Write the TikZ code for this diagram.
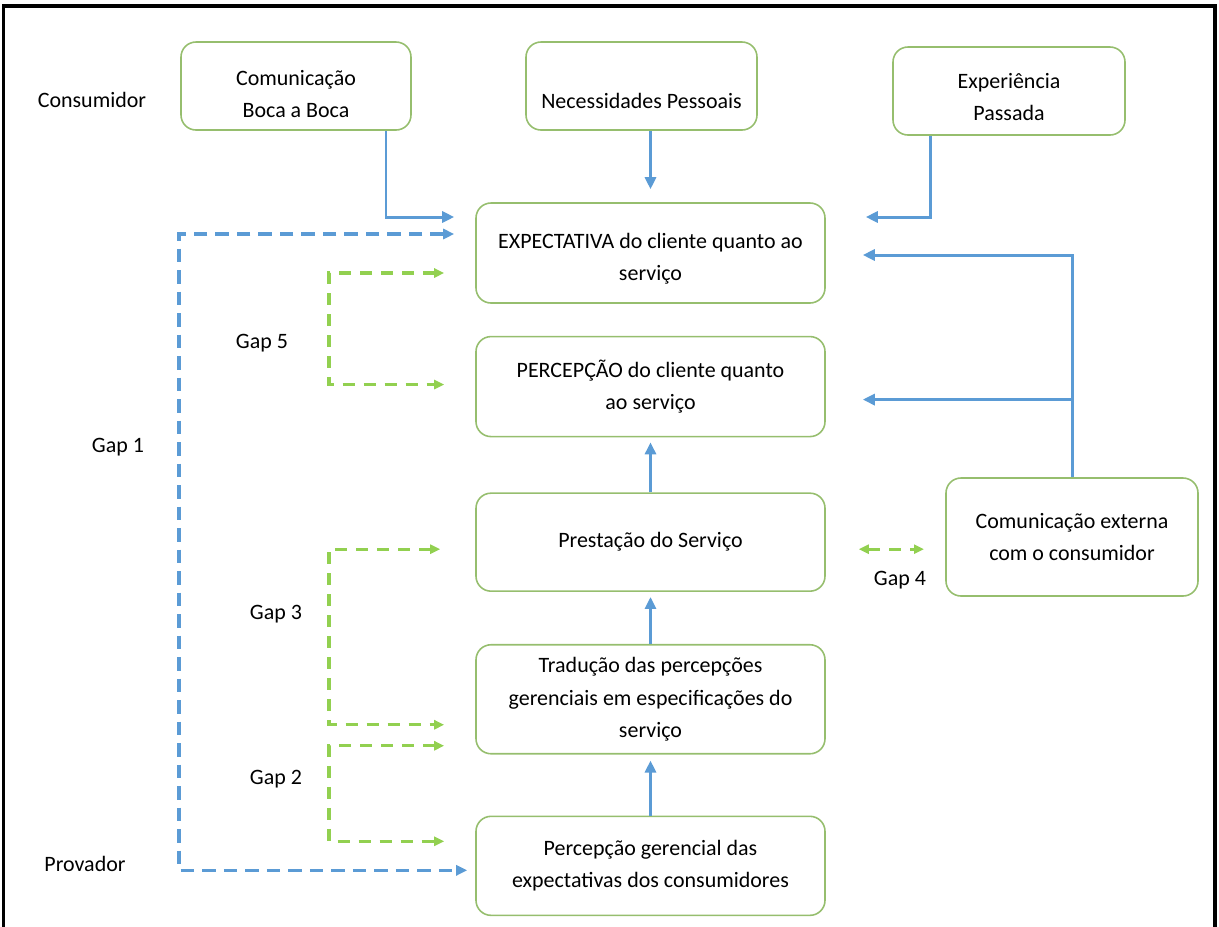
\documentclass[tikz,border=0pt]{standalone}
\usepackage{fontspec}
\setmainfont{Carlito}
\usetikzlibrary{positioning, arrows.meta}

\definecolor{boxgreen}{RGB}{150,190,110}
\definecolor{linkblue}{RGB}{91,155,213}
\definecolor{gapgreen}{RGB}{146,208,80}

\newcommand{\lowtext}[1]{\rule{0pt}{#1}}

\begin{document}
\begin{tikzpicture}[
    font=\fontsize{12.5}{18.5}\selectfont,
    box/.style={
        draw=boxgreen,
        line width=0.9pt,
        rounded corners=0.3cm,
        align=center,
        inner sep=0pt,
        minimum width=6.98cm,
        minimum height=2cm
    },
    topbox/.style={box, minimum width=4.6cm, minimum height=1.76cm},
    arrow/.style={-{Triangle[length=0.24cm, width=0.22cm]}, linkblue, line width=1.7pt},
    gapone/.style={{Triangle[length=0.22cm, width=0.2cm]}-{Triangle[length=0.22cm, width=0.2cm]},
        linkblue, line width=1.8pt, dash pattern=on 0.27cm off 0.16cm},
    gapline/.style={{Triangle[length=0.2cm, width=0.18cm]}-{Triangle[length=0.2cm, width=0.18cm]},
        gapgreen, line width=1.8pt, dash pattern=on 0.24cm off 0.18cm}
]

\useasboundingbox (0,0) rectangle (24.38,-18.52);
\draw[line width=1.8pt] (0.07,-18.6) |- (24.3,-0.12) -- (24.3,-18.6);

% consumer side
\node[topbox] (boca) at (5.92,-1.72) {\lowtext{0.63cm}Comunicação\\Boca a Boca};
\node[topbox, minimum width=4.62cm] (neces) at (12.83,-1.72) {\lowtext{0.89cm}Necessidades Pessoais};
\node[topbox, minimum width=4.64cm] (exper) at (20.18,-1.82) {\lowtext{0.55cm}Experiência\\Passada};

\node[box] (expect) at (13.01,-5.06) {\lowtext{0.53cm}EXPECTATIVA do cliente quanto ao\\serviço};
\node[box, below=0.64cm of expect] (percep) {PERCEPÇÃO do cliente quanto\\ao serviço};

% provider side
\node[box, minimum height=1.96cm, below=1.1cm of percep] (prest) {Prestação do Serviço};
\node[box, minimum height=2.18cm, below=1.04cm of prest] (tradu) {Tradução das percepções\\gerenciais em especificações do\\serviço};
\node[box, minimum height=1.98cm, below=1.22cm of tradu] (gerenc) {Percepção gerencial das\\expectativas dos consumidores};
\node[box, minimum width=5.04cm, minimum height=2.36cm] (extern) at (21.44,-10.74) {Comunicação externa\\com o consumidor};

% labels
\node (consum) at (1.84,-2.0) {Consumidor};
\node (provad) at (1.7,-17.28) {Provador};
\node (lgap1) at (2.36,-8.94) {Gap 1};
\node (lgap5) at (5.24,-6.86) {Gap 5};
\node (lgap3) at (5.52,-12.28) {Gap 3};
\node (lgap2) at (5.52,-15.58) {Gap 2};
\node (lgap4) at (18.0,-11.6) {Gap 4};

% blue arrows
\draw[arrow] ([xshift=1.8cm]boca.south) |- ([xshift=-0.42cm, yshift=0.72cm]expect.west);
\draw[arrow] (neces.south -| expect.north) -- ([yshift=0.26cm]expect.north);
\draw[arrow] ([xshift=-1.58cm]exper.south) |- ([xshift=0.8cm, yshift=0.72cm]expect.east);
\draw[arrow] (prest.north) -- ([yshift=-0.1cm]percep.south);
\draw[arrow] (tradu.north) -- ([yshift=-0.1cm]prest.south);
\draw[arrow] (gerenc.north) -- ([yshift=-0.12cm]tradu.south);

\coordinate (extexp) at ([xshift=0.74cm, yshift=-0.04cm]expect.east);
\coordinate (extper) at ([xshift=0.74cm, yshift=-0.26cm]percep.east);
\draw[arrow] (extern.north) |- (extexp);
\draw[arrow] (extern.north |- extper) -- (extper);

% gaps
\coordinate (g1a) at ([xshift=-0.42cm, yshift=0.38cm]expect.west);
\coordinate (g1b) at ([xshift=-0.16cm, yshift=-0.09cm]gerenc.west);
\draw[gapone] (g1a) -| (3.58,0 |- g1b) -- (g1b);

\coordinate (g5a) at ([xshift=-0.62cm, yshift=-0.4cm]expect.west);
\coordinate (g5b) at ([xshift=-0.62cm, yshift=0.04cm]percep.west);
\draw[gapline] (g5a) -| (6.58,0 |- g5b) -- (g5b);

\coordinate (g3a) at ([xshift=-0.7cm, yshift=-0.14cm]prest.west);
\coordinate (g3b) at ([xshift=-0.62cm, yshift=-0.51cm]tradu.west);
\draw[gapline] (g3a) -| (6.58,0 |- g3b) -- (g3b);

\coordinate (g2a) at ([xshift=-0.62cm, yshift=-0.93cm]tradu.west);
\coordinate (g2b) at ([xshift=-0.62cm, yshift=0.49cm]gerenc.west);
\draw[gapline] (g2a) -| (6.58,0 |- g2b) -- (g2b);

\coordinate (g4a) at ([xshift=0.66cm, yshift=-0.14cm]prest.east);
\draw[gapline] (g4a) -- (g4a -| 18.48,0);

\end{tikzpicture}
\end{document}
